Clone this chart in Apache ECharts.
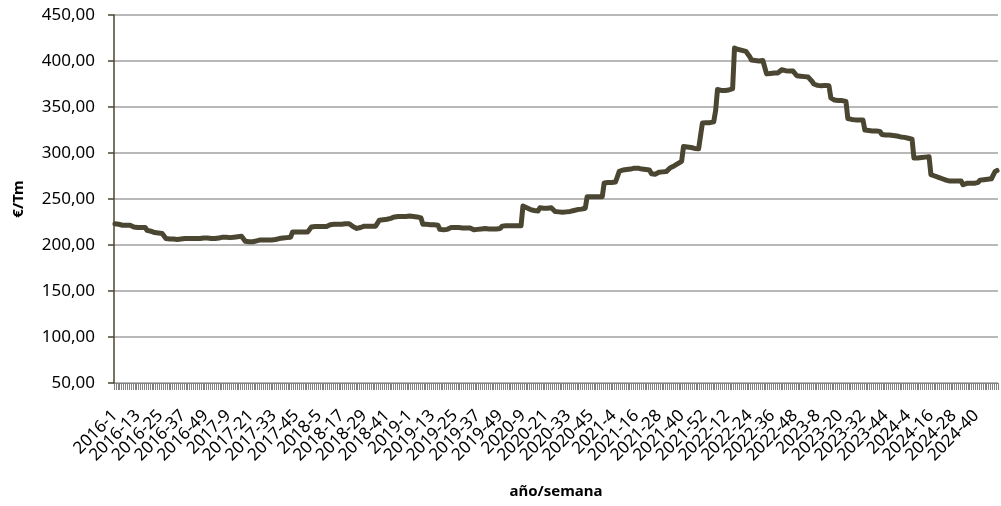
<!DOCTYPE html>
<html>
<head>
<meta charset="utf-8">
<script src="https://cdn.jsdelivr.net/npm/echarts@6/dist/echarts.min.js"></script>
<style>
html,body{margin:0;padding:0;background:#fff;overflow:hidden;}
#chart{width:1001px;height:506px;}
</style>
</head>
<body>
<div id="chart"></div>
<script>
// Years and number of weeks in the series per year
var years = [2016, 2017, 2018, 2019, 2020, 2021, 2022, 2023, 2024];
var weeksPerYear = [52, 52, 52, 52, 53, 52, 52, 52, 51];
var labelEvery = 12; // one tick label every 12 weeks

// Weekly prices (€/Tm), one array per year
var v2016 = [223,222.5,222.5,222, 221.5,221.5,221.5,221.5,221.5,221.5,
  219.5,219,219,219,219,219,219, 216,215.5,215,
  214,213.5,213.5,213,213,212.5,212,
  207,206.5,206.5,206.5,206.5,206,206,206.5,206.5,206.5,207,207,207,207,207,207,207,207,207,207.5,207.5,207.5,207.5,207,207];
var v2017 = [207,207,207,207.5,207.5,
  208.5,208.5,208.5,208.5,208,208,208.5,209,209,209.5,209.5,209,
  204,203.5,203.5,203,203.5,204,204.5,205,
  205.5,205.5,205.5,205.5,205.5,205.5,205.5,205.5,206,
  207,207,207.5,207.5,208,208,208.5,208.5,
  214,214,214,214,214,214,214,214,214,214];
var v2018 = [219.5,219.5,220,220,220,220,220,220,220,
  222,222,222.5,222.5,222.5,222.5,222.5,222.5,222.5,223,223,223,222,
  220,218.5,218,218.5,219,
  220.5,220.5,220.5,220.5,220.5,220.5,220.5,220.5,220.5,
  227,227.5,227.5,228,228,228.5,229,
  230,230.5,230.5,231,231,231,231,231,231.5];
var v2019 = [231.5,231,231,230.5,230.5,230,229.5,
  222.5,222.5,222.5,222,222,222,222,221.5,221.5,
  217,216.5,216.5,216.5,217,
  218,219,219,219,219,219,219,218.5,218.5,218.5,218.5,218.5,
  217,216.5,216.5,217,
  217.5,217.5,217.5,218,218,217.5,217.5,217.5,217.5,217.5,218,218,
  220.5,221,221];
var v2020 = [221,221,221,221,221,221,221,221,
  242.5,242,240.5,
  239,238.5,238,237.5,237.5,237,
  240.5,240.5,240,240,240,240,240.5,240.5,
  236.5,236,236,235.5,235.5,235.5,
  236,236,236.5,237,237.5,238,238.5,239,239,239.5,240,
  252.5,252.5,252.5,252.5,252.5,252.5,252.5,252.5,252.5,
  267.5,268];
var v2021 = [268,268,268,268.5,268.5,269,
  280,281,281.5,282,282,282,282.5,283,283.5,284,283.5,283,282.5,282.5,282,282,281.5,
  277.5,277,277,
  279,279,279.5,279.5,280,280,280.5,
  284,285,286,287,288.5,290,291,
  307,307,306.5,306,306,305.5,305,305,304.5,304.5,
  332.5,333];
var v2022 = [333,333,333,333,334,
  346,
  369,368.5,368,368,368,368,368.5,369,370,
  414,413,412.5,412,411.5,411,410.5,410,
  405,
  401,400.5,400.5,400,400,400,400.5,402,
  386,386,386.5,386.5,387,387,387,386.5,
  390.5,
  389.5,389.5,389,389,389,389,389,
  384,383.5,383.5,383];
var v2023 = [383,383,382.5,382,
  378,375,374,373.5,
  373,373,373,373.5,373.5,373,
  360,358,357.5,357.5,357,357,357,356.5,356,
  337.5,337,336.5,336.5,336,336,336,336,336,
  325,324.5,324.5,324,324,324,324,323.5,323.5,
  320,319.5,319.5,319.5,319.5,319.5,319,319,318.5,318,
  317.5];
var v2024 = [317,317,316.5,316,315.5,315,
  294.5,294.5,294.5,295,295,295,295.5,295.5,296,
  276.5,275.5,275,274,273.5,272.5,272,271,270.5,
  270,269.5,269.5,269.5,269.5,269.5,269.5,269.5,
  265.5,266,
  267,267,267,267,267,267.5,268,
  270.5,271,271,271,271.5,271.5,272,272,
  280,281];

// Y axis ticks
var yMin = 50, yMax = 450, yStep = 50;

var yearValues = [v2016, v2017, v2018, v2019, v2020, v2021, v2022, v2023, v2024];
var categories = [];
var values = [];
for (var y = 0; y < years.length; y++) {
  for (var w = 1; w <= weeksPerYear[y]; w++) {
    categories.push(years[y] + '-' + w);
  }
  values = values.concat(yearValues[y]);
}

var chart = echarts.init(document.getElementById('chart'), null, {renderer: 'canvas'});
var font = 'Noto Sans';
var labelStyle = {rotate: 45, margin: 30, fontFamily: font, fontSize: 17, color: '#000'};
// Labels are split over two overlaid category axes (even / odd label slots)
// so that the library does not drop any of the crowded rotated labels.
function labelsOn(offset) {
  return Object.assign({}, labelStyle, {
    interval: function (i) { return i % (2 * labelEvery) === offset; }
  });
}
chart.setOption({
  animation: false,
  backgroundColor: '#ffffff',
  grid: {left: 114, right: 3, top: 15, bottom: 123, containLabel: false, outerBoundsMode: 'none'},
  xAxis: [{
    type: 'category',
    position: 'bottom',
    data: categories,
    boundaryGap: true,
    name: 'año/semana',
    nameLocation: 'middle',
    nameGap: 101,
    nameTextStyle: {fontFamily: font, fontWeight: 'bold', fontSize: 15, color: '#000'},
    axisLine: {show: true, lineStyle: {color: '#888888', width: 1}},
    axisTick: {show: true, interval: 0, length: 7, lineStyle: {color: '#808080', width: 1}},
    axisLabel: labelsOn(0),
    splitLine: {show: false}
  }, {
    type: 'category',
    position: 'bottom',
    data: categories,
    boundaryGap: true,
    axisLine: {show: false},
    axisTick: {show: false},
    axisLabel: labelsOn(labelEvery),
    splitLine: {show: false}
  }],
  yAxis: {
    type: 'value',
    min: yMin, max: yMax, interval: yStep,
    name: '€/Tm',
    nameLocation: 'middle',
    nameGap: 88,
    nameTextStyle: {fontFamily: font, fontWeight: 'bold', fontSize: 15, color: '#000'},
    axisLine: {show: true, lineStyle: {color: '#4b4631', width: 1.5}},
    axisTick: {show: true, length: 6, lineStyle: {color: '#4b4631', width: 1.5}},
    axisLabel: {margin: 19, fontFamily: font, fontSize: 17, color: '#000',
      formatter: function (v) { return v.toFixed(2).replace('.', ','); }},
    splitLine: {show: true, lineStyle: {color: '#a0a0a0', width: 1.5}}
  },
  series: [{
    type: 'line',
    xAxisIndex: 0,
    data: values,
    symbol: 'none',
    lineStyle: {color: '#4b4631', width: 5, join: 'round', cap: 'round'},
    z: 3
  }]
});
</script>
</body>
</html>
